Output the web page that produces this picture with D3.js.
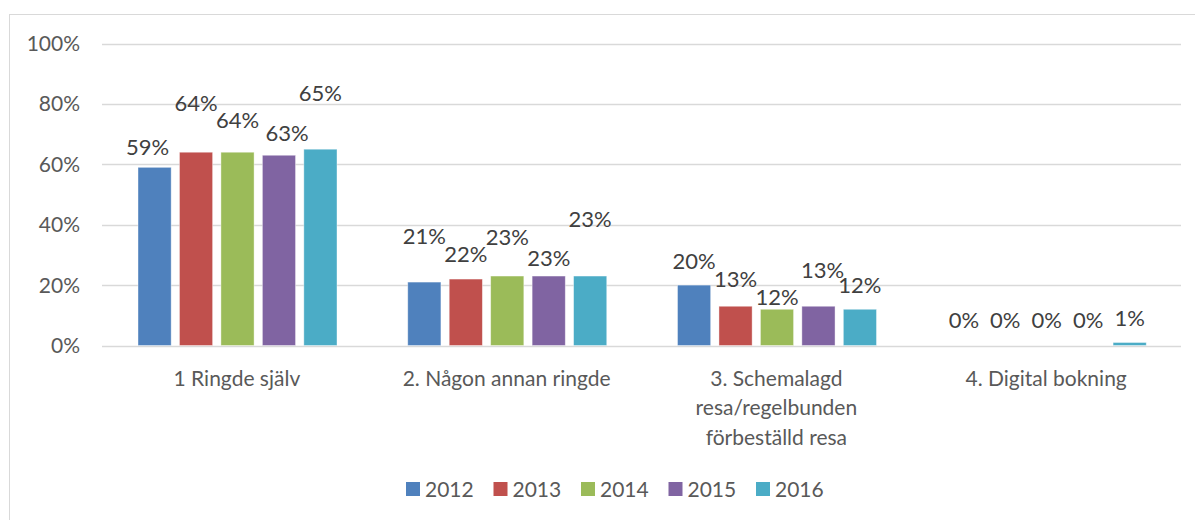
<!DOCTYPE html>
<html>
<head>
<meta charset="utf-8">
<script src="https://cdn.jsdelivr.net/npm/d3@7"></script>
<style>
  body { margin: 0; background: #fff; }
  svg { font-family: Lato, "Open Sans", sans-serif; }
</style>
</head>
<body>
<div id="chart"></div>
<script>
// data
const categories = ["1 Ringde själv", "2. Någon annan ringde", "3. Schemalagd resa/regelbunden förbeställd resa", "4. Digital bokning"];
const years = ["2012", "2013", "2014", "2015", "2016"];
const values = [
    [0.59, 0.64, 0.64, 0.63, 0.65],
    [0.21, 0.22, 0.23, 0.23, 0.23],
    [0.20, 0.13, 0.12, 0.13, 0.12],
    [0.00, 0.00, 0.00, 0.00, 0.01]
];
const labels = [
    ["59%", "64%", "64%", "63%", "65%"],
    ["21%", "22%", "23%", "23%", "23%"],
    ["20%", "13%", "12%", "13%", "12%"],
    ["0%", "0%", "0%", "0%", "1%"]
];
const yTicks = [0, 0.2, 0.4, 0.6, 0.8, 1.0];
const colors = ["#4f81bd", "#c0504d", "#9bbb59", "#8064a2", "#4bacc6"];

// label placement (pixels, as moved by hand in the original)
const labelLift = [
    [20, 49, 32, 22, 56],
    [46, 25, 39, 18, 57],
    [24, 27, 12, 36, 24],
    [25, 25, 25, 25, 24]
];
const labelShift = [
    [-7, 0, 0, 8, 0],
    [0, 0, 0, 0, 0],
    [0, 0, 0, 4, 0],
    [0, 0, 0, 0, 0]
];

const width = 1195, height = 520;
const plot = { left: 102, right: 1181, top: 43.5, bottom: 345.5 };

const svg = d3.select("#chart")
    .append("svg")
    .attr("width", width)
    .attr("height", height);

// outer frame
svg.append("rect")
    .attr("x", 9.5).attr("y", 14.5)
    .attr("width", 1200).attr("height", 520)
    .attr("fill", "none")
    .attr("stroke", "#d9d9d9");

const x0 = d3.scaleBand()
    .domain(categories)
    .range([plot.left, plot.right]);

const x1 = d3.scaleBand()
    .domain(years)
    .range([36, 235])
    .paddingInner(0.2);

const y = d3.scaleLinear()
    .domain([0, 1])
    .range([plot.bottom, plot.top]);

// gridlines
svg.append("g")
    .selectAll("line")
    .data(yTicks)
    .join("line")
    .attr("x1", plot.left)
    .attr("x2", plot.right)
    .attr("y1", d => Math.round(y(d)) + 0.5)
    .attr("y2", d => Math.round(y(d)) + 0.5)
    .attr("stroke", "#d9d9d9")
    .attr("stroke-width", 1.3);

// y tick labels
svg.append("g")
    .selectAll("text")
    .data(yTicks)
    .join("text")
    .attr("x", 80)
    .attr("y", d => y(d))
    .attr("dy", "0.36em")
    .attr("text-anchor", "end")
    .attr("fill", "#595959")
    .attr("font-size", 21)
    .text(d => d3.format(".0%")(d));

// bars
const groups = svg.append("g")
    .selectAll("g")
    .data(categories)
    .join("g")
    .attr("transform", d => `translate(${x0(d)},0)`);

groups.selectAll("rect")
    .data((c, i) => years.map((yr, j) => ({ yr, v: values[i][j], j })))
    .join("rect")
    .attr("x", d => x1(d.yr))
    .attr("y", d => y(d.v))
    .attr("width", x1.bandwidth())
    .attr("height", d => y(0) - y(d.v))
    .attr("fill", d => colors[d.j])
    .attr("stroke", "#fff")
    .attr("stroke-opacity", 0.5)
    .attr("stroke-width", 0.8);

// data labels
groups.selectAll("text.lbl")
    .data((c, i) => years.map((yr, j) => ({ yr, v: values[i][j], t: labels[i][j], lift: labelLift[i][j], dx: labelShift[i][j] })))
    .join("text")
    .attr("class", "lbl")
    .attr("x", d => x1(d.yr) + x1.bandwidth() / 2 + d.dx)
    .attr("y", d => y(d.v) - d.lift)
    .attr("dy", "0.36em")
    .attr("text-anchor", "middle")
    .attr("fill", "#404040")
    .attr("font-size", 22)
    .text(d => d.t);

// category labels, wrapped
const catText = svg.append("g")
    .selectAll("text")
    .data(categories)
    .join("text")
    .attr("x", d => x0(d) + x0.bandwidth() / 2)
    .attr("y", 378)
    .attr("text-anchor", "middle")
    .attr("fill", "#595959")
    .attr("font-size", 21);

catText.each(function (d) {
    const t = d3.select(this);
    const words = d.split(" ");
    let line = [];
    let tspan = t.append("tspan").attr("x", t.attr("x")).attr("dy", "0.36em");
    words.forEach(w => {
        line.push(w);
        tspan.text(line.join(" "));
        if (tspan.node().getComputedTextLength() > 235 && line.length > 1) {
            line.pop();
            tspan.text(line.join(" "));
            line = [w];
            tspan = t.append("tspan").attr("x", t.attr("x")).attr("dy", "29.5px").text(w);
        }
    });
});

// legend
const legend = svg.append("g")
    .selectAll("g")
    .data(years)
    .join("g")
    .attr("transform", (d, i) => `translate(${406 + i * 87.5},482)`);

legend.append("rect")
    .attr("width", 14)
    .attr("height", 14)
    .attr("fill", (d, i) => colors[i]);

legend.append("text")
    .attr("x", 19)
    .attr("y", 7)
    .attr("dy", "0.36em")
    .attr("fill", "#595959")
    .attr("font-size", 21)
    .text(d => d);
</script>
</body>
</html>
